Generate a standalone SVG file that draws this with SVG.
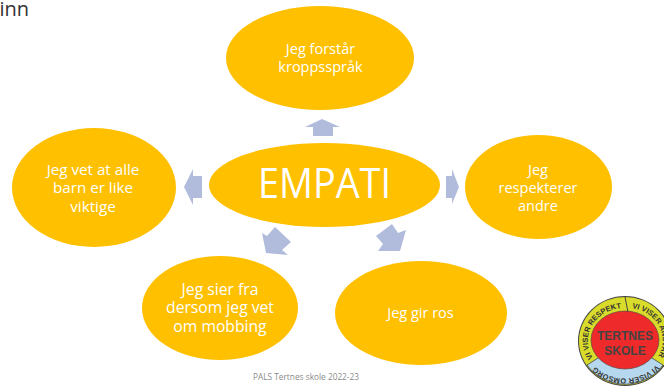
<svg xmlns="http://www.w3.org/2000/svg" width="664" height="387" viewBox="0 0 664 387">
<style>
.n{fill:#ffc000}
.a{fill:#b1bcdd}
text{font-family:"Open Sans","Liberation Sans",sans-serif}
.t{fill:#fff;font-size:14.5px;text-anchor:middle}
.r{font-family:"Liberation Sans",sans-serif;font-size:7.5px;font-weight:700;fill:#333}
.l{font-family:"Liberation Sans",sans-serif;font-size:12px;font-weight:700;fill:#444;text-anchor:middle}
</style>
<defs>
<path id="ringTop" d="M593 358A37 33 0 0 1 623 308"/>
<path id="ringRight" d="M632 308A37 33 0 0 1 657 358"/>
<path id="ringBottom" d="M659 362A42 40 0 0 1 591 362"/>
</defs>
<rect width="664" height="387" fill="#fff"/>
<text x="-0.500" y="16" font-size="20" fill="#333">inn</text>
<g id="connectors">
<polygon class="a" points="322,119 340,127 333,127 333,136 313,136 313,127 305,127"/>
<polygon class="a" points="184,187 193,169 193,176 202,176 202,198 193,198 193,205"/>
<polygon class="a" points="459,187 452,169 452,176 446,176 446,198 452,198 452,204"/>
<polygon class="a" points="262,233 267,236 275,227 291,242 282,250 288,255 266,253"/>
<polygon class="a" points="392,224 398,233 406,230 400,251 378,251 383,244 376,236"/>
</g>
<g id="node-top"><ellipse class="n" cx="320" cy="58" rx="94" ry="52"/>
<text class="t" x="320.500" y="54">Jeg forstår</text><text class="t" x="320.500" y="72">kroppsspråk</text></g>
<g id="node-center"><ellipse class="n" cx="324.500" cy="185" rx="115.500" ry="42"/>
<text x="324.500" y="198" fill="#fff" font-size="42" text-anchor="middle" textLength="133" lengthAdjust="spacingAndGlyphs">EMPATI</text></g>
<g id="node-right"><ellipse class="n" cx="538.500" cy="187" rx="73.500" ry="52"/>
<text class="t" x="538" y="175">Jeg</text><text class="t" x="538" y="193">respekterer</text><text class="t" x="538" y="211">andre</text></g>
<g id="node-left"><ellipse class="n" cx="94" cy="187.500" rx="82" ry="59.500"/>
<text class="t" style="font-size:15.200px" x="93" y="175">Jeg vet at alle</text><text class="t" style="font-size:15.200px" x="93" y="193">barn er like</text><text class="t" style="font-size:15.200px" x="93" y="212">viktige</text></g>
<g id="node-bottom-right"><ellipse class="n" cx="421" cy="313" rx="86" ry="52"/>
<text class="t" x="420.500" y="318">Jeg gir ros</text></g>
<g id="node-bottom-left"><ellipse class="n" cx="220" cy="308" rx="78" ry="52"/>
<text class="t" style="font-size:15.700px" x="220" y="295">Jeg sier fra</text><text class="t" style="font-size:15.700px" x="220" y="313">dersom jeg vet</text><text class="t" style="font-size:15.700px" x="220" y="332">om mobbing</text></g>
<text x="306" y="380" font-size="8.300" fill="#8a8a8a" text-anchor="middle">PALS Tertnes skole 2022-23</text>
<g id="logo">
<ellipse cx="625" cy="341" rx="47" ry="45" fill="#444"/>
<ellipse cx="625" cy="341" rx="46" ry="44" fill="#d9dc2a"/>
<path d="M587 365A46 44 0 0 0 663 365L625 341Z" fill="#b5d8ee" stroke="#444" stroke-width=".8"/>
<ellipse cx="625" cy="340" rx="34" ry="29" fill="#ee2a2a" stroke="#444" stroke-width=".6"/>
<path d="M625 297L628 312" stroke="#444" stroke-width="1"/>
<text class="r"><textPath href="#ringTop">VI VISER RESPEKT</textPath></text>
<text class="r"><textPath href="#ringRight">VI VISER ANSVAR</textPath></text>
<text class="r"><textPath href="#ringBottom" startOffset="4">VI VISER OMSORG</textPath></text>
<text class="l" x="625" y="340">TERTNES</text>
<text class="l" x="625" y="355">SKOLE</text>
</g>
</svg>
